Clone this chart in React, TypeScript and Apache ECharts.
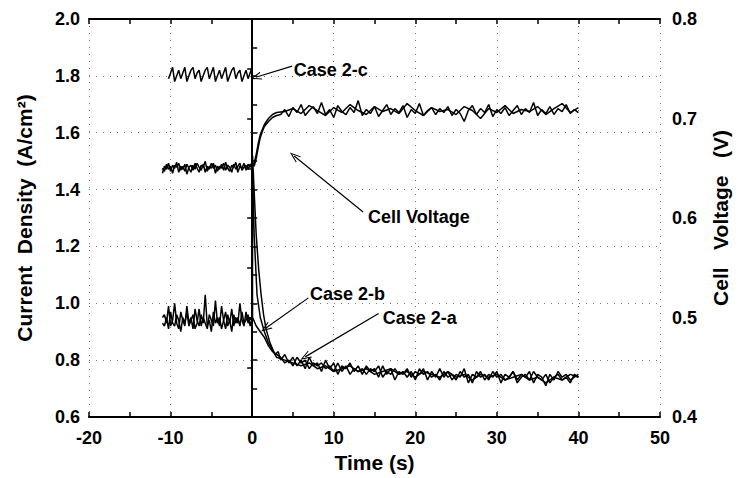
import React, { useEffect, useRef } from "react";
import * as echarts from "echarts";

// ---- Data ----
const PRE_T = [-11, -10.75, -10.5, -10.25, -10, -9.75, -9.5, -9.25, -9, -8.75, -8.5, -8.25, -8, -7.75, -7.5, -7.25, -7, -6.75, -6.5, -6.25, -6, -5.75, -5.5, -5.25, -5, -4.75, -4.5, -4.25, -4, -3.75, -3.5, -3.25, -3, -2.75, -2.5, -2.25, -2, -1.75, -1.5, -1.25, -1, -0.75, -0.5, -0.25, 0];
const PRE_T_C = [-10.25, -10, -9.75, -9.5, -9.25, -9, -8.75, -8.5, -8.25, -8, -7.75, -7.5, -7.25, -7, -6.75, -6.5, -6.25, -6, -5.75, -5.5, -5.25, -5, -4.75, -4.5, -4.25, -4, -3.75, -3.5, -3.25, -3, -2.75, -2.5, -2.25, -2, -1.75, -1.5, -1.25, -1, -0.75, -0.5, -0.25, 0];
const POST_T = [3.5, 4, 4.5, 5, 5.5, 6, 6.5, 7, 7.5, 8, 8.5, 9, 9.5, 10, 10.5, 11, 11.5, 12, 12.5, 13, 13.5, 14, 14.5, 15, 15.5, 16, 16.5, 17, 17.5, 18, 18.5, 19, 19.5, 20, 20.5, 21, 21.5, 22, 22.5, 23, 23.5, 24, 24.5, 25, 25.5, 26, 26.5, 27, 27.5, 28, 28.5, 29, 29.5, 30, 30.5, 31, 31.5, 32, 32.5, 33, 33.5, 34, 34.5, 35, 35.5, 36, 36.5, 37, 37.5, 38, 38.5, 39, 39.5, 40];
const POST_T2 = [4, 5, 6, 7, 8, 9, 10, 11, 12, 13, 14, 15, 16, 17, 18, 19, 20, 21, 22, 23, 24, 25, 26, 27, 28, 29, 30, 31, 32, 33, 34, 35, 36, 37, 38, 39, 40];

// Current density (A/cm2)
const CASE_A_PRE = [0.95, 0.96, 0.93, 0.99, 0.92, 0.94, 1.0, 0.93, 0.91, 0.97, 0.94, 0.92, 0.99, 0.93, 0.95, 0.91, 0.98, 0.94, 0.92, 0.96, 0.93, 1.03, 0.92, 0.94, 0.9, 0.97, 0.93, 0.95, 0.92, 0.99, 0.94, 0.91, 0.96, 0.93, 0.98, 0.92, 0.95, 0.93, 1.0, 0.94, 0.92, 0.97, 0.93, 0.95, 0.94];
const CASE_A_STEP: [number, number][] = [[0.05, 1.52], [0.3, 1.36], [0.5, 1.24], [0.8, 1.12], [1.1, 1.03], [1.4, 0.96], [1.7, 0.91], [2.2, 0.86], [2.8, 0.82], [3.2, 0.83]];
const CASE_A_POST = [0.80, 0.82, 0.79, 0.81, 0.78, 0.80, 0.77, 0.81, 0.78, 0.79, 0.76, 0.80, 0.77, 0.79, 0.75, 0.78, 0.77, 0.79, 0.76, 0.78, 0.75, 0.78, 0.76, 0.77, 0.74, 0.78, 0.75, 0.77, 0.73, 0.76, 0.75, 0.77, 0.74, 0.76, 0.75, 0.77, 0.73, 0.76, 0.74, 0.77, 0.74, 0.76, 0.73, 0.75, 0.74, 0.77, 0.72, 0.75, 0.74, 0.76, 0.73, 0.75, 0.74, 0.76, 0.72, 0.75, 0.74, 0.76, 0.73, 0.75, 0.74, 0.76, 0.72, 0.75, 0.74, 0.71, 0.75, 0.73, 0.76, 0.74, 0.75, 0.73, 0.74, 0.75];

const CASE_B_PRE = [0.93, 0.92, 0.95, 0.91, 0.97, 0.93, 0.92, 0.96, 0.94, 0.9, 0.95, 0.93, 0.97, 0.92, 0.94, 0.96, 0.91, 0.93, 0.98, 0.92, 0.95, 0.93, 0.91, 0.96, 0.94, 0.92, 1.01, 0.93, 0.95, 0.91, 0.94, 0.97, 0.92, 0.94, 0.9, 0.96, 0.93, 0.95, 0.92, 0.97, 0.93, 0.94, 0.96, 0.92, 0.95];
const CASE_B_STEP: [number, number][] = [[0.05, 1.45], [0.25, 1.24], [0.6, 1.03], [1.0, 0.95], [1.5, 0.9], [2.0, 0.86], [2.6, 0.83], [3.0, 0.81]];
const CASE_B_POST = [0.80, 0.79, 0.78, 0.79, 0.77, 0.78, 0.76, 0.77, 0.78, 0.76, 0.77, 0.75, 0.76, 0.77, 0.75, 0.76, 0.74, 0.76, 0.75, 0.74, 0.76, 0.74, 0.75, 0.73, 0.75, 0.74, 0.75, 0.73, 0.74, 0.75, 0.73, 0.74, 0.72, 0.74, 0.73, 0.75, 0.74];

const CASE_C_PRE = [1.79, 1.81, 1.83, 1.78, 1.80, 1.82, 1.79, 1.81, 1.83, 1.78, 1.80, 1.82, 1.83, 1.79, 1.81, 1.82, 1.78, 1.80, 1.82, 1.83, 1.79, 1.81, 1.83, 1.78, 1.80, 1.82, 1.79, 1.81, 1.83, 1.78, 1.80, 1.82, 1.83, 1.79, 1.81, 1.82, 1.78, 1.80, 1.82, 1.79, 1.81, 1.83];
const CASE_C_STEP: [number, number][] = [[0.05, 0.95], [0.5, 0.92], [1.0, 0.9], [1.5, 0.88], [2.0, 0.85], [2.5, 0.83], [3.0, 0.82]];
const CASE_C_POST = [0.81, 0.79, 0.80, 0.78, 0.81, 0.79, 0.80, 0.77, 0.79, 0.78, 0.79, 0.77, 0.78, 0.76, 0.79, 0.76, 0.78, 0.75, 0.77, 0.76, 0.77, 0.75, 0.77, 0.76, 0.78, 0.74, 0.76, 0.75, 0.77, 0.75, 0.76, 0.74, 0.76, 0.73, 0.77, 0.75, 0.76, 0.74, 0.75, 0.73, 0.76, 0.74, 0.75, 0.73, 0.76, 0.74, 0.75, 0.72, 0.76, 0.74, 0.75, 0.73, 0.76, 0.74, 0.75, 0.73, 0.74, 0.76, 0.72, 0.74, 0.75, 0.73, 0.76, 0.74, 0.73, 0.75, 0.72, 0.74, 0.75, 0.73, 0.74, 0.72, 0.75, 0.74];

// Cell voltage (V)
const VOLT1_PRE = [0.645, 0.652, 0.649, 0.655, 0.647, 0.653, 0.650, 0.656, 0.646, 0.652, 0.649, 0.654, 0.644, 0.651, 0.653, 0.648, 0.655, 0.650, 0.646, 0.653, 0.651, 0.657, 0.647, 0.652, 0.650, 0.655, 0.645, 0.652, 0.649, 0.654, 0.648, 0.656, 0.650, 0.647, 0.653, 0.651, 0.656, 0.646, 0.652, 0.650, 0.655, 0.648, 0.654, 0.651, 0.656];
const VOLT1_STEP: [number, number][] = [[0.25, 0.652], [0.5, 0.66], [0.75, 0.671], [1, 0.681], [1.25, 0.687], [1.5, 0.692], [2, 0.697], [2.5, 0.701], [3, 0.703]];
const VOLT1_POST = [0.704, 0.709, 0.702, 0.711, 0.706, 0.714, 0.703, 0.708, 0.712, 0.705, 0.716, 0.704, 0.709, 0.701, 0.713, 0.707, 0.704, 0.711, 0.706, 0.718, 0.703, 0.709, 0.705, 0.712, 0.702, 0.708, 0.714, 0.704, 0.71, 0.706, 0.713, 0.701, 0.709, 0.705, 0.715, 0.703, 0.708, 0.711, 0.704, 0.71, 0.706, 0.712, 0.703, 0.709, 0.705, 0.697, 0.708, 0.713, 0.704, 0.71, 0.706, 0.714, 0.702, 0.709, 0.705, 0.711, 0.703, 0.708, 0.713, 0.704, 0.71, 0.706, 0.716, 0.703, 0.709, 0.705, 0.712, 0.704, 0.71, 0.707, 0.714, 0.705, 0.709, 0.706];

const VOLT2_PRE = [0.650, 0.647, 0.654, 0.649, 0.652, 0.645, 0.653, 0.651, 0.655, 0.648, 0.652, 0.647, 0.654, 0.650, 0.646, 0.653, 0.649, 0.655, 0.651, 0.648, 0.654, 0.646, 0.652, 0.649, 0.655, 0.650, 0.653, 0.647, 0.652, 0.650, 0.655, 0.648, 0.653, 0.651, 0.646, 0.654, 0.649, 0.652, 0.655, 0.648, 0.651, 0.653, 0.649, 0.654, 0.652];
const VOLT2_STEP: [number, number][] = [[0.25, 0.655], [0.5, 0.664], [0.75, 0.675], [1, 0.684], [1.5, 0.694], [2, 0.7], [2.5, 0.704], [3, 0.706]];
const VOLT2_POST = [0.707, 0.71, 0.705, 0.713, 0.708, 0.703, 0.711, 0.706, 0.714, 0.708, 0.704, 0.712, 0.707, 0.71, 0.705, 0.715, 0.708, 0.703, 0.711, 0.707, 0.709, 0.704, 0.712, 0.708, 0.7, 0.71, 0.706, 0.713, 0.705, 0.709, 0.707, 0.712, 0.704, 0.71, 0.715, 0.706, 0.711];

// Annotations, in (time s, current density A/cm2): label anchor, arrow start, arrow tip
const NOTE_TEXT = ["Case 2-c", "Cell Voltage", "Case 2-b", "Case 2-a"];
const NOTE_LABEL_AT: [number, number][] = [[5.1, 1.82], [14.2, 1.304], [7.1, 1.033], [16.0, 0.95]];
const NOTE_ARROW_FROM: [number, number][] = [[4.9, 1.834], [13.6, 1.321], [6.9, 1.019], [15.5, 0.964]];
const NOTE_ARROW_TO: [number, number][] = [[0.45, 1.795], [5.15, 1.518], [1.65, 0.912], [6.5, 0.8115]];

const X_TICKS = { min: -20, max: 50, step: 10 };
const Y_LEFT = { min: 0.6, max: 2.0, step: 0.2 };
const Y_RIGHT = { min: 0.4, max: 0.8, step: 0.1 };

function zip(t: number[], v: number[]): [number, number][] {
  const n = Math.min(t.length, v.length);
  const out: [number, number][] = [];
  for (let i = 0; i < n; i++) out.push([t[i], v[i]]);
  return out;
}

const FONT = "'Liberation Sans', Arial, sans-serif";

export default function App() {
  const ref = useRef<HTMLDivElement>(null);
  useEffect(() => {
    if (!ref.current) return;
    const chart = echarts.init(ref.current, null, { renderer: "svg" });

    const caseA = [...zip(PRE_T, CASE_A_PRE), ...CASE_A_STEP, ...zip(POST_T, CASE_A_POST)];
    const caseB = [...zip(PRE_T, CASE_B_PRE), ...CASE_B_STEP, ...zip(POST_T2, CASE_B_POST)];
    const caseC = [...zip(PRE_T_C, CASE_C_PRE), ...CASE_C_STEP, ...zip(POST_T, CASE_C_POST)];
    const volt1 = [...zip(PRE_T, VOLT1_PRE), ...VOLT1_STEP, ...zip(POST_T, VOLT1_POST)];
    const volt2 = [...zip(PRE_T, VOLT2_PRE), ...VOLT2_STEP, ...zip(POST_T2, VOLT2_POST)];

    const axisLine = { show: true, lineStyle: { color: "#000", width: 2 } };
    const axisTick = { show: true, inside: true, length: 5, lineStyle: { color: "#000", width: 1.5 } };
    const minorTick = { show: true, splitNumber: 2, length: 5, lineStyle: { color: "#000", width: 1.5 } };
    const splitLine = { show: true, lineStyle: { color: "#777", width: 1, type: [1, 6] as any } };
    const label = { color: "#000", fontFamily: FONT, fontWeight: "bold" as const, fontSize: 18 };
    const nameStyle = { color: "#000", fontFamily: FONT, fontWeight: "bold" as const, fontSize: 21 };

    const lineSeries = (name: string, data: [number, number][], yAxisIndex: number) => ({
      name,
      type: "line" as const,
      data,
      yAxisIndex,
      showSymbol: false,
      symbol: "none",
      silent: true,
      lineStyle: { color: "#000", width: 1.5 },
      itemStyle: { color: "#000" },
      z: 3,
    });

    const arrowSymbol = "path://M0,10 L5,0 L10,10 L8.6,10 L5,2.6 L1.4,10 Z";

    chart.setOption({
      animation: false,
      backgroundColor: "#fff",
      grid: { left: 89, right: 71, top: 19, bottom: 55, containLabel: false },
      xAxis: [
        {
          type: "value",
          position: "bottom",
          min: X_TICKS.min,
          max: X_TICKS.max,
          interval: X_TICKS.step,
          axisLine,
          axisTick,
          minorTick,
          splitLine,
          axisLabel: { ...label, margin: 12 },
          name: "Time (s)",
          nameLocation: "middle",
          nameGap: 35,
          nameTextStyle: nameStyle,
        },
        {
          type: "value",
          position: "top",
          min: X_TICKS.min,
          max: X_TICKS.max,
          interval: X_TICKS.step,
          axisLine,
          axisTick,
          minorTick,
          splitLine: { show: false },
          axisLabel: { show: false },
        },
      ],
      yAxis: [
        {
          type: "value",
          position: "left",
          min: Y_LEFT.min,
          max: Y_LEFT.max,
          interval: Y_LEFT.step,
          axisLine,
          axisTick,
          minorTick,
          splitLine,
          axisLabel: { ...label, margin: 9, formatter: (v: number) => v.toFixed(1) },
          name: "Current  Density  (A/cm²)",
          nameLocation: "middle",
          nameGap: 54,
          nameTextStyle: nameStyle,
        },
        {
          type: "value",
          position: "right",
          min: Y_RIGHT.min,
          max: Y_RIGHT.max,
          interval: Y_RIGHT.step,
          axisLine,
          axisTick,
          minorTick,
          splitLine: { show: false },
          axisLabel: { ...label, margin: 12, formatter: (v: number) => v.toFixed(1) },
          name: "Cell   Voltage   (V)",
          nameLocation: "middle",
          nameGap: 50,
          nameTextStyle: nameStyle,
        },
      ],
      series: [
        {
          ...lineSeries("Case 2-a", caseA, 0),
          markLine: {
            silent: true,
            animation: false,
            symbol: ["none", arrowSymbol],
            symbolSize: [8, 11],
            label: { show: false },
            lineStyle: { color: "#000", width: 1.2, type: "solid" },
            emphasis: { disabled: true },
            data: NOTE_ARROW_FROM.map((s, i) => [{ coord: s }, { coord: NOTE_ARROW_TO[i] }]),
          },
          markPoint: {
            silent: true,
            animation: false,
            symbol: "rect",
            symbolSize: 0,
            label: {
              show: true,
              position: "right",
              distance: 0,
              color: "#000",
              fontFamily: FONT,
              fontWeight: "bold",
              fontSize: 18,
              formatter: (p: any) => p.name,
            },
            data: NOTE_TEXT.map((name, i) => ({ name, coord: NOTE_LABEL_AT[i] })),
          },
        },
        lineSeries("Case 2-b", caseB, 0),
        lineSeries("Case 2-c", caseC, 0),
        lineSeries("Cell Voltage 1", volt1, 1),
        lineSeries("Cell Voltage 2", volt2, 1),
      ],
    });
    return () => chart.dispose();
  }, []);
  return (
    <div
      ref={ref}
      style={{ position: "absolute", left: 0, top: 0, width: 739, height: 478, background: "#fff" }}
    />
  );
}
